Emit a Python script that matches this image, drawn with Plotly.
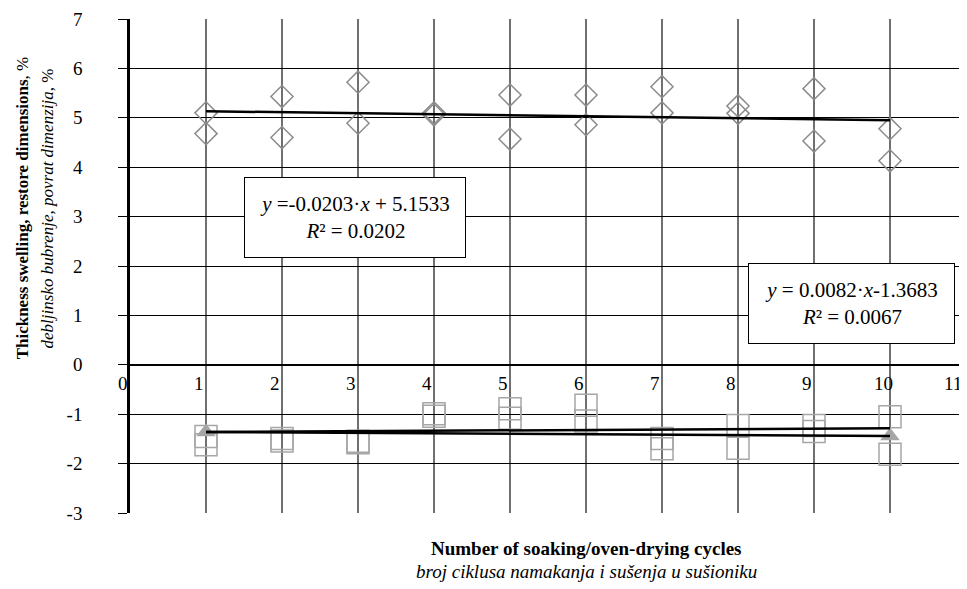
import plotly.graph_objects as go

# ---- data ----
cycles = [1, 2, 3, 4, 5, 6, 7, 8, 9, 10]
swelling_a = [5.10, 5.43, 5.72, 5.10, 5.46, 5.46, 5.63, 5.24, 5.59, 4.78]
swelling_b = [4.68, 4.60, 4.89, 5.06, 4.57, 4.86, 5.10, 5.09, 4.53, 4.13]
restore_a = [-1.45, -1.49, -1.55, -0.99, -0.89, -0.82, -1.49, -1.23, -1.23, -1.05]
restore_b = [-1.62, -1.54, -1.58, -1.04, -1.08, -1.14, -1.70, -1.69, -1.35, -1.81]
mean_x = [1, 10]
mean_y = [-1.36, -1.44]
trend_swell = {"slope": -0.0203, "intercept": 5.1533}
trend_rest = {"slope": 0.0082, "intercept": -1.3683}
x_ticks = [0, 1, 2, 3, 4, 5, 6, 7, 8, 9, 10, 11]
y_ticks = [-3, -2, -1, 0, 1, 2, 3, 4, 5, 6, 7]

FONT = "Liberation Serif, Times New Roman, serif"

fig = go.Figure()

# triangles (behind squares)
fig.add_trace(go.Scatter(
    x=mean_x, y=mean_y, mode="markers",
    marker=dict(symbol="triangle-up", size=17, color="#A6A6A6",
                line=dict(width=0)),
    showlegend=False, hoverinfo="skip"))

# squares
for ys in (restore_a, restore_b):
    fig.add_trace(go.Scatter(
        x=cycles, y=ys, mode="markers",
        marker=dict(symbol="square-open", size=22, color="#A6A6A6",
                    line=dict(width=1.5, color="#A6A6A6")),
        showlegend=False, hoverinfo="skip"))

# diamonds
for ys in (swelling_a, swelling_b):
    fig.add_trace(go.Scatter(
        x=cycles, y=ys, mode="markers",
        marker=dict(symbol="diamond-open", size=17, color="#8C8C8C",
                    line=dict(width=1.5, color="#8C8C8C")),
        showlegend=False, hoverinfo="skip"))

# trend lines
tx = [cycles[0], cycles[-1]]
for tr in (trend_swell, trend_rest):
    fig.add_trace(go.Scatter(
        x=tx, y=[tr["slope"] * v + tr["intercept"] for v in tx],
        mode="lines", line=dict(color="black", width=2.5),
        showlegend=False, hoverinfo="skip"))

# line between triangles
fig.add_trace(go.Scatter(
    x=mean_x, y=mean_y, mode="lines",
    line=dict(color="black", width=2.5),
    showlegend=False, hoverinfo="skip"))

annotations = []
# x tick labels along the zero line
for t in x_ticks:
    annotations.append(dict(
        x=t, y=0, xref="x", yref="y", text=str(t), showarrow=False,
        xanchor="center", yanchor="middle",
        xshift=-7 if t != x_ticks[-1] else -13, yshift=-19,
        font=dict(family=FONT, size=19, color="black")))

# equation boxes
annotations.append(dict(
    x=2.954, y=2.98, xref="x", yref="y", showarrow=False,
    text="<i>y</i> =-0.0203·<i>x</i> + 5.1533<br><i>R</i>² = 0.0202",
    font=dict(family=FONT, size=21, color="black"),
    bgcolor="white", bordercolor="black", borderwidth=1, borderpad=0,
    width=220, height=79, align="center"))
annotations.append(dict(
    x=9.49, y=1.244, xref="x", yref="y", showarrow=False,
    text="<i>y</i> = 0.0082·<i>x</i>-1.3683<br><i>R</i>² = 0.0067",
    font=dict(family=FONT, size=21, color="black"),
    bgcolor="white", bordercolor="black", borderwidth=1, borderpad=0,
    width=205, height=79, align="center"))

# axis titles
annotations.append(dict(
    x=-0.129, y=0.617, xref="paper", yref="paper", showarrow=False,
    textangle=-90, text="<b>Thickness swelling, restore dimensions</b>, %",
    font=dict(family=FONT, size=17, color="black"),
    xanchor="center", yanchor="middle"))
annotations.append(dict(
    x=-0.099, y=0.617, xref="paper", yref="paper", showarrow=False,
    textangle=-90, text="<i>debljinsko bubrenje, povrat dimenzija</i>, %",
    font=dict(family=FONT, size=17, color="black"),
    xanchor="center", yanchor="middle"))
annotations.append(dict(
    x=(586 - 130) / 836, y=-(549 - 513) / 496, xref="paper", yref="paper",
    showarrow=False, text="<b>Number of soaking/oven-drying cycles</b>",
    font=dict(family=FONT, size=19, color="black"),
    xanchor="center", yanchor="middle"))
annotations.append(dict(
    x=(586 - 130) / 836, y=-(572 - 513) / 496, xref="paper", yref="paper",
    showarrow=False, text="<i>broj ciklusa namakanja i sušenja u sušioniku</i>",
    font=dict(family=FONT, size=19, color="black"),
    xanchor="center", yanchor="middle"))

# the page body has an 8px margin, so the figure is shrunk by that offset
fig.update_layout(
    width=959, height=581,
    margin=dict(l=122, r=1, t=9, b=76),
    paper_bgcolor="white", plot_bgcolor="white",
    showlegend=False,
    annotations=annotations,
    xaxis=dict(range=[0, 11], tickvals=cycles, showticklabels=False,
               showgrid=True, gridcolor="#707070", gridwidth=1.5,
               zeroline=False, showline=False, ticks=""),
    yaxis=dict(range=[-3, 7], tickvals=y_ticks,
               ticktext=[str(v) for v in y_ticks],
               showgrid=True, gridcolor="black", gridwidth=1,
               zeroline=True, zerolinecolor="black", zerolinewidth=2,
               showline=True, linecolor="black", linewidth=2.5,
               ticks="outside", ticklen=9, tickcolor="black", tickwidth=1,
               ticklabelstandoff=32, ticklabeloverflow="allow",
               tickfont=dict(family=FONT, size=19, color="black")),
)

fig.write_html("out.html")
